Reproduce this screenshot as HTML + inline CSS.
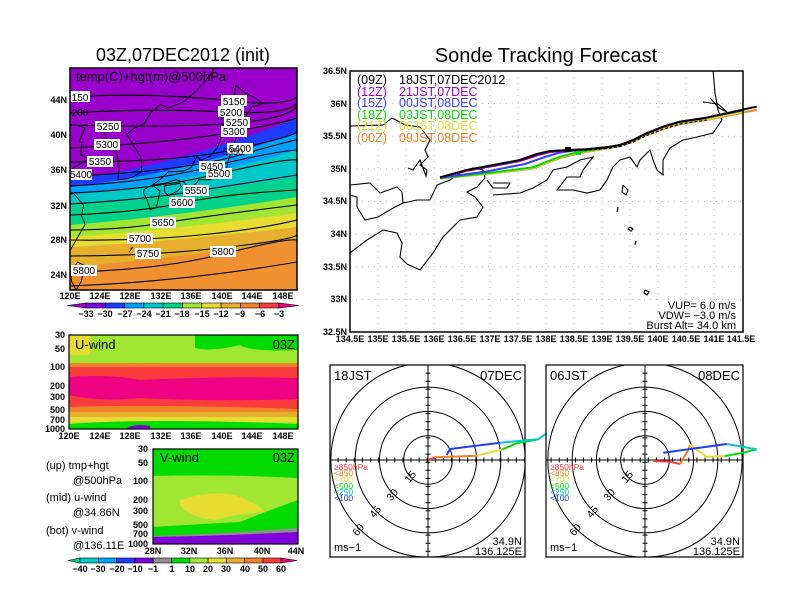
<!DOCTYPE html>
<html><head><meta charset="utf-8"><style>
html,body{margin:0;padding:0;background:#fff}
svg{display:block;font-family:"Liberation Sans",sans-serif}
.t{font-size:9px;font-weight:bold}
.n{vector-effect:non-scaling-stroke}
</style></head><body>
<svg width="792" height="612" viewBox="0 0 792 612" xmlns="http://www.w3.org/2000/svg">
<rect width="792" height="612" fill="#fff"/>
<defs>
<clipPath id="c1"><rect x="70" y="68" width="227" height="222"/></clipPath>
<clipPath id="c2"><rect x="350" y="71" width="393" height="261"/></clipPath>
<clipPath id="c3"><rect x="330" y="365" width="195" height="192"/></clipPath>
<clipPath id="c4"><rect x="546" y="365" width="197" height="192"/></clipPath>
</defs>

<!-- ===== Top-left temperature map ===== -->
<text x="183" y="61" font-size="18" text-anchor="middle">03Z,07DEC2012 (init)</text>
<g clip-path="url(#c1)">
<rect x="70" y="68" width="227" height="222" fill="#9a00cc"/>
<path d="M70,180 Q180,165 297,118 V290 H70Z" fill="#1e3cff"/>
<path d="M70,187 Q180,175 297,132 V290 H70Z" fill="#00a0ff"/>
<path d="M70,195 Q180,185 297,150 V290 H70Z" fill="#00c8c8"/>
<path d="M70,205 Q180,198 297,177 V290 H70Z" fill="#00d28c"/>
<path d="M70,225 Q180,216 297,197 V290 H70Z" fill="#a0e632"/>
<path d="M70,237 Q180,229 297,213 V290 H70Z" fill="#e6dc32"/>
<path d="M70,247 Q180,241 297,227 V290 H70Z" fill="#e6af2d"/>
<path d="M70,267 Q180,258 297,240 V290 H70Z" fill="#f09030"/>
<g transform="translate(-838.4,482.5) scale(7.57,-8.75)" fill="none" stroke="#000" stroke-width="0.9">
<polyline class="n" points="124.5,40 125.2,38.5 126.2,37.5 126.5,36 126.3,34.6 127.5,34.7 128.5,35 129.4,35.5 129.5,36.5 129.3,37.3 128.4,38.5 127.5,39.8 128.5,40.5 129.8,41 130.7,42.3 132,43.2 133,42.8 135,43.5 137,45 138.5,46.5 139.5,48"/>
<polyline class="n" points="121,40.8 122,40.5 121.2,39 121.6,38.8 121.4,37.5 122.5,37 120.5,36 119.5,35"/>
<polyline class="n" points="119.5,33 120.5,33 121.8,31.7 121.5,30.5 122,29.5 121,28 120,26.5"/>
<polygon class="n" points="129.8,33.5 130.9,34 131.9,33.3 131.4,31.4 130.6,31.2 130.2,32.3 129.7,33.1"/>
<polygon class="n" points="130.9,34 132,34.7 133,35.5 135,35.6 136,36 136.8,37.3 137.3,36.8 138.5,37.3 139.5,38.3 140,39.5 140,40.6 140.7,41.3 141.5,40.5 142,39.5 141.5,38.3 141,37 140.7,36 140.8,35.1 139.8,35 139,34.8 138.5,34.6 137,34.6 136.8,34.3 135.8,33.5 135.1,34.3 134,34.6 132.5,34.2"/>
<polygon class="n" points="132.5,33.9 134.5,34.2 134.7,33.8 134.2,33.3 133,32.8 132.5,33.2"/>
<polygon class="n" points="140,41.5 140.2,42.5 141.5,43.3 141.7,44.3 141.9,45.4 143,44.6 144.5,43.9 145.5,43.3 144,42.9 143.3,42 141.2,42.4"/>
<polygon class="n" points="121,25.2 121.9,24.8 121.5,23 120.8,22 120.2,23 120.1,24"/>
<polyline class="n" points="128,26.7 128.3,26.9 127.8,26.3"/>
<polyline class="n" points="129.5,28.3 129.8,28.5"/>
</g>
<g fill="none" stroke="#000" stroke-width="1.1">
<path d="M70,97 Q150,92 233,101 T297,80"/>
<path d="M70,113 Q150,108 230,112 T297,92"/>
<path d="M70,125 Q180,128 236,123 T297,105"/>
<path d="M70,148 Q180,142 233,132 T297,118"/>
<path d="M70,162 Q180,162 237,149 T297,132"/>
<path d="M70,176 Q180,172 240,155 T297,140"/>
<path d="M70,186 Q150,182 210,167 T297,150"/>
<path d="M70,193 Q150,190 218,174 T297,160"/>
<path d="M70,204 Q140,200 196,191 T297,175"/>
<path d="M70,215 Q140,212 182,203 T297,190"/>
<path d="M70,230 Q120,230 163,223 T297,205"/>
<path d="M70,240 Q140,241 200,235 T297,220"/>
<path d="M70,256 Q148,256 220,248 T297,235"/>
<path d="M70,272 Q160,270 223,254 T297,240"/>
<path d="M70,286 Q180,282 297,262"/>
</g>
<g font-size="10" text-anchor="middle">
<g fill="#fff"><rect x="70" y="91" width="20" height="11"/><rect x="221" y="95" width="26" height="11"/><rect x="218" y="106" width="26" height="11"/><rect x="95" y="121" width="26" height="11"/><rect x="224" y="117" width="26" height="11"/><rect x="94" y="139" width="26" height="11"/><rect x="221" y="126" width="26" height="11"/><rect x="87" y="156" width="26" height="11"/><rect x="227" y="143" width="26" height="11"/><rect x="70" y="169" width="22" height="11"/><rect x="199" y="161" width="26" height="11"/><rect x="206" y="168" width="26" height="11"/><rect x="183" y="185" width="26" height="11"/><rect x="169" y="197" width="26" height="11"/><rect x="150" y="217" width="26" height="11"/><rect x="127" y="233" width="26" height="11"/><rect x="135" y="248" width="26" height="11"/><rect x="71" y="265" width="26" height="11"/><rect x="210" y="246" width="26" height="11"/></g>
<text x="80" y="101">150</text><text x="234" y="105">5150</text><text x="231" y="116">5200</text><text x="108" y="130">5250</text><text x="237" y="126">5250</text><text x="107" y="148">5300</text><text x="234" y="135">5300</text><text x="100" y="165">5350</text><text x="240" y="152">5400</text><text x="81" y="178">5400</text><text x="212" y="170">5450</text><text x="219" y="177">5500</text><text x="196" y="194">5550</text><text x="182" y="206">5600</text><text x="163" y="226">5650</text><text x="140" y="242">5700</text><text x="148" y="257">5750</text><text x="84" y="274">5800</text><text x="223" y="255">5800</text>
<text x="80" y="116">200</text>
<text x="233" y="155" font-size="9">5350</text>
</g>
<text x="76" y="81" font-size="13">temp(C)+hgt(m)@500hPa</text>
</g>
<rect x="70" y="68" width="227" height="222" fill="none" stroke="#000" stroke-width="1.5"/>
<g class="t" text-anchor="end">
<text x="67" y="103">44N</text><text x="67" y="138">40N</text><text x="67" y="173">36N</text><text x="67" y="209">32N</text><text x="67" y="243">28N</text><text x="67" y="278">24N</text>
</g>
<g class="t" text-anchor="middle">
<text x="70" y="299">120E</text><text x="100" y="299">124E</text><text x="130" y="299">128E</text><text x="161" y="299">132E</text><text x="191" y="299">136E</text><text x="222" y="299">140E</text><text x="252" y="299">144E</text><text x="283" y="299">148E</text>
</g>
<g stroke="#000" stroke-width="0.6">
<polygon points="67,305.5 86,303 86,308" fill="#a000c8"/>
<rect x="86" y="303" width="19.3" height="5" fill="#8200dc"/><rect x="105.3" y="303" width="19.3" height="5" fill="#1e3cff"/><rect x="124.6" y="303" width="19.3" height="5" fill="#00a0ff"/><rect x="143.9" y="303" width="19.3" height="5" fill="#00c8c8"/><rect x="163.2" y="303" width="19.3" height="5" fill="#00d28c"/><rect x="182.5" y="303" width="19.3" height="5" fill="#a0e632"/><rect x="201.8" y="303" width="19.3" height="5" fill="#e6dc32"/><rect x="221.1" y="303" width="19.3" height="5" fill="#e6af2d"/><rect x="240.4" y="303" width="19.3" height="5" fill="#f08228"/><rect x="259.7" y="303" width="19.3" height="5" fill="#fa3c3c"/>
<polygon points="279,303 279,308 299,305.5" fill="#f00082"/>
</g>
<g class="t" text-anchor="middle">
<text x="86" y="317">−33</text><text x="105" y="317">−30</text><text x="125" y="317">−27</text><text x="144" y="317">−24</text><text x="163" y="317">−21</text><text x="182" y="317">−18</text><text x="202" y="317">−15</text><text x="221" y="317">−12</text><text x="240" y="317">−9</text><text x="260" y="317">−6</text><text x="279" y="317">−3</text>
</g>

<!-- ===== U-wind ===== -->
<rect x="69" y="335" width="229" height="94" fill="#a0e632"/>
<path d="M195,335 H298 V350 Q250,352 240,345 Q210,352 195,348Z" fill="#00dc00"/>
<path d="M69,335 H90 V355 H69Z" fill="#e6dc32"/>
<rect x="69" y="363" width="229" height="6" fill="#f08228"/>
<rect x="69" y="367" width="229" height="42" fill="#fa3c3c"/>
<path d="M69,377 Q110,374 140,380 Q220,376 298,378 V399 Q220,402 140,398 Q100,402 69,395Z" fill="#f00082"/>
<path d="M69,407 Q150,404 298,409 V414 H69Z" fill="#f08228"/>
<path d="M69,412 H298 V418 H69Z" fill="#e6af2d"/>
<path d="M69,417 H298 V422 H69Z" fill="#e6dc32"/>
<path d="M69,424 Q150,418 298,424 V429 H69Z" fill="#00dc00"/>
<path d="M125,429 Q135,423 150,426 V429Z" fill="#8200dc"/>
<rect x="69" y="335" width="229" height="94" fill="none" stroke="#000" stroke-width="1.2"/>
<text x="75" y="349" font-size="13">U-wind</text>
<text x="295" y="349" font-size="13" text-anchor="end">03Z</text>
<g class="t" text-anchor="end">
<text x="65" y="338">30</text><text x="65" y="352">50</text><text x="65" y="370">100</text><text x="65" y="389">200</text><text x="65" y="400">300</text><text x="65" y="413">500</text><text x="65" y="423">700</text><text x="65" y="432">1000</text>
</g>
<g class="t" text-anchor="middle">
<text x="69" y="439">120E</text><text x="100" y="439">124E</text><text x="130" y="439">128E</text><text x="161" y="439">132E</text><text x="191" y="439">136E</text><text x="222" y="439">140E</text><text x="252" y="439">144E</text><text x="283" y="439">148E</text>
</g>

<!-- ===== V-wind ===== -->
<rect x="153" y="449" width="145" height="95" fill="#a0e632"/>
<path d="M153,449 H298 V478 Q230,474 153,476Z" fill="#00dc00"/>
<path d="M180,500 Q210,490 235,495 Q260,505 265,512 Q240,513 215,520 Q190,518 180,505Z" fill="#e6dc32"/>
<path d="M153,527 Q200,524 240,522 Q270,510 298,500 V544 H153Z" fill="#00dc00"/>
<path d="M153,536 Q220,534 298,528 V544 H153Z" fill="#8e8e8e"/>
<path d="M153,537 Q220,536 298,532 V544 H153Z" fill="#8200dc"/>
<rect x="153" y="449" width="145" height="95" fill="none" stroke="#000" stroke-width="1.2"/>
<text x="160" y="462" font-size="13">V-wind</text>
<text x="295" y="462" font-size="13" text-anchor="end">03Z</text>
<g class="t" text-anchor="end">
<text x="148" y="452">30</text><text x="148" y="466">50</text><text x="148" y="484">100</text><text x="148" y="503">200</text><text x="148" y="514">300</text><text x="148" y="528">500</text><text x="148" y="537">700</text><text x="148" y="547">1000</text>
</g>
<g class="t" text-anchor="middle">
<text x="153" y="554">28N</text><text x="189" y="554">32N</text><text x="225" y="554">36N</text><text x="262" y="554">40N</text><text x="296" y="554">44N</text>
</g>
<g font-size="11">
<text x="46" y="469">(up) tmp+hgt</text><text x="73" y="484">@500hPa</text>
<text x="46" y="501">(mid) u-wind</text><text x="73" y="516">@34.86N</text>
<text x="46" y="534">(bot) v-wind</text><text x="73" y="549">@136.11E</text>
</g>
<g stroke="#000" stroke-width="0.6">
<polygon points="68,560.5 80,558 80,563" fill="#00d28c"/>
<rect x="80" y="558" width="18.3" height="5" fill="#00c8c8"/><rect x="98.3" y="558" width="18.3" height="5" fill="#00a0ff"/><rect x="116.6" y="558" width="18.3" height="5" fill="#1e3cff"/><rect x="134.9" y="558" width="18.3" height="5" fill="#8200dc"/><rect x="153.2" y="558" width="18.3" height="5" fill="#8e8e8e"/><rect x="171.5" y="558" width="18.3" height="5" fill="#00dc00"/><rect x="189.8" y="558" width="18.3" height="5" fill="#a0e632"/><rect x="208.1" y="558" width="18.3" height="5" fill="#e6dc32"/><rect x="226.4" y="558" width="18.3" height="5" fill="#e6af2d"/><rect x="244.7" y="558" width="18.3" height="5" fill="#f08228"/><rect x="263" y="558" width="18.3" height="5" fill="#fa3c3c"/>
<polygon points="281,558 281,563 297,560.5" fill="#f00082"/>
</g>
<g class="t" text-anchor="middle">
<text x="80" y="572">−40</text><text x="98" y="572">−30</text><text x="117" y="572">−20</text><text x="135" y="572">−10</text><text x="153" y="572">−1</text><text x="172" y="572">1</text><text x="190" y="572">10</text><text x="208" y="572">20</text><text x="226" y="572">30</text><text x="245" y="572">40</text><text x="263" y="572">50</text><text x="281" y="572">60</text>
</g>

<!-- ===== Sonde tracking map ===== -->
<text x="546" y="62" font-size="20" text-anchor="middle">Sonde Tracking Forecast</text>
<g clip-path="url(#c2)">
<g stroke="#bbb" stroke-width="1" stroke-dasharray="1 5">
<path d="M378,71V332M406,71V332M434,71V332M462,71V332M490,71V332M518,71V332M546,71V332M574,71V332M602,71V332M630,71V332M658,71V332M686,71V332M714,71V332"/>
<path d="M350,103.6H743M350,136.2H743M350,168.9H743M350,201.5H743M350,234.1H743M350,266.7H743M350,299.4H743"/>
</g>
<g fill="none" stroke="#000" stroke-width="1.1">
<polyline points="350,126 383,125 392,118 398,121 405,125 420,127 430,140 425,150 428,157 420,165 427,170 426,176 420,160 413,170 408,168"/>
<polyline points="350,185 370,183 380,193 397,187 402,192 403,203 395,207 378,217 365,220 357,207 357,197 350,195"/>
<polyline points="403,203 417,200 430,200 437,185 450,180 460,173 473,168 483,170 485,178 477,187 467,192 475,197 483,207 477,217 460,220 443,237 433,253 420,270 407,264 400,257 402,243 397,233 383,230 367,240 350,253"/>
<polyline points="487,180 493,188 507,188 510,183 493,183"/>
<polyline points="493,195 520,193 533,188 547,180 553,170 567,167 580,160 593,157 583,170 580,177 567,177 557,190 573,190 587,193 600,190 607,180 613,167 620,160 630,157 637,167 640,160 650,150 653,160 657,170 663,175 663,160 670,148 683,140 697,137 713,133 722,120 718,110 715,93 713,70"/>
<polyline points="703,102 718,104 727,112 719,108 710,98"/>
<polyline points="623,185 628,190 626,195 622,192 623,185"/>
<polyline points="618,207 617,212"/>
<polyline points="630,227 633,229 631,231 628,229 630,227"/>
<polyline points="636,241 635,245"/>
<polyline points="645,290 649,292 647,295 644,293 645,290"/>
</g>
<g fill="none" stroke-width="2">
<polyline stroke="#f08228" points="440,178.5 486.7,174 533.3,168.5 547,163 560,158 580,153 606.7,148.5 620,146 633.3,141.5 646.7,135 663.3,129 680,124 703.3,120.5 756.7,110"/>
<polyline stroke="#e6dc32" points="440,178.5 486.7,173.8 533.3,168 547,162.3 560,157.3 578,152.8 606.7,148 620,145.6 633.3,141 646.7,134.5 663.3,128.3 680,123.3 703.3,119.8 756.7,109"/>
<polyline stroke="#00dc00" points="440,178.3 486.7,173.3 533.3,167.3 546.7,161.7 560,156.7 576.7,152.5 606.7,147.5 620,145 633.3,140 646.7,133.3 663.3,126.7 680,121.7 703.3,118.3 756.7,108"/>
<polyline stroke="#3c3cff" points="440,177.8 486.7,171.5 525,164 545,157 560,152.5 575,150.5 606.7,147.3 620,145 633.3,140 646.7,133.3 663.3,126.7 680,121.7 703.3,118.3 756.7,107.5"/>
<polyline stroke="#a000c8" points="440,177.5 466.7,170.8 493.3,166 520,161 536.7,155.5 550,152 568.3,150.5 586.7,149.3 606.7,147.3 620,145 633.3,140 646.7,133.3 663.3,126.7 680,121.7 703.3,118.3 756.7,107"/>
<polyline stroke="#000" points="440,177.3 466.7,170 493.3,165 520,160 536.7,154 550,151 568.3,150 586.7,149.3 606.7,147.3 620,145 633.3,140 646.7,133.3 663.3,126.7 680,121.7 703.3,118.3 756.7,106.7"/>
</g>
<polyline fill="none" stroke="#000" stroke-width="1.2" stroke-dasharray="3 2" points="574,151 606.7,148.5 620,146.5 633.3,142 646.7,135.5 663.3,129 680,124 706.7,120"/>
<rect x="565" y="147" width="6" height="5" fill="#000"/>
<rect x="576" y="151" width="5" height="4" fill="#00dc00"/>
<g font-size="12.5">
<text x="357" y="84">(09Z)</text><text x="399" y="84">18JST,07DEC2012</text>
<text x="357" y="96" fill="#a000c8">(12Z)</text><text x="399" y="96" fill="#a000c8">21JST,07DEC</text>
<text x="357" y="107" fill="#3c3cff">(15Z)</text><text x="399" y="107" fill="#3c3cff">00JST,08DEC</text>
<text x="357" y="119" fill="#00dc00">(18Z)</text><text x="399" y="119" fill="#00dc00">03JST,08DEC</text>
<text x="357" y="130" fill="#e6dc32">(21Z)</text><text x="399" y="130" fill="#e6dc32">06JST,08DEC</text>
<text x="357" y="142" fill="#f08228">(00Z)</text><text x="399" y="142" fill="#f08228">09JST,08DEC</text>
</g>
<g font-size="11" text-anchor="end">
<text x="736" y="309">VUP=  6.0  m/s</text>
<text x="736" y="319">VDW=  −3.0  m/s</text>
<text x="736" y="329">Burst Alt=  34.0  km</text>
</g>
</g>
<polyline fill="none" stroke="#f08228" stroke-width="2" points="743,112.5 756.7,110"/>
<polyline fill="none" stroke="#000" stroke-width="2" points="743,109.5 756.7,106.7"/>
<rect x="350" y="71" width="393" height="261" fill="none" stroke="#000" stroke-width="1.5"/>
<g class="t" text-anchor="end">
<text x="347" y="74">36.5N</text><text x="347" y="107">36N</text><text x="347" y="139">35.5N</text><text x="347" y="172">35N</text><text x="347" y="204">34.5N</text><text x="347" y="237">34N</text><text x="347" y="270">33.5N</text><text x="347" y="302">33N</text><text x="347" y="335">32.5N</text>
</g>
<g class="t" text-anchor="middle">
<text x="350" y="342">134.5E</text><text x="378" y="342">135E</text><text x="406" y="342">135.5E</text><text x="434" y="342">136E</text><text x="462" y="342">136.5E</text><text x="490" y="342">137E</text><text x="518" y="342">137.5E</text><text x="546" y="342">138E</text><text x="574" y="342">138.5E</text><text x="602" y="342">139E</text><text x="630" y="342">139.5E</text><text x="658" y="342">140E</text><text x="686" y="342">140.5E</text><text x="714" y="342">141E</text><text x="741" y="342">141.5E</text>
</g>

<!-- ===== Hodographs ===== -->
<g clip-path="url(#c3)" fill="none" stroke="#000" stroke-width="1">
<circle cx="428" cy="460" r="24.3"/><circle cx="428" cy="460" r="48.6"/><circle cx="428" cy="460" r="72.9"/><circle cx="428" cy="460" r="97.2"/>
<line x1="330" y1="460" x2="525" y2="460"/><line x1="428" y1="365" x2="428" y2="557"/>
<line x1="330" y1="460" x2="525" y2="460" stroke-width="5" stroke-dasharray="1 7.1" stroke-dashoffset="0.5"/>
<line x1="428" y1="365" x2="428" y2="557" stroke-width="5" stroke-dasharray="1 7.1" stroke-dashoffset="0.5"/>
</g>
<rect x="330" y="365" width="195" height="192" fill="none" stroke="#000" stroke-width="1.2"/>
<g fill="none" stroke-width="2">
<polyline stroke="#fa3c3c" points="428.3,460 435,457.3"/>
<polyline stroke="#f08228" points="435,457.3 476.7,455.7"/>
<polyline stroke="#e6dc32" points="476.7,455.7 502.7,449.3"/>
<polyline stroke="#00dc00" points="502.7,449.3 516.7,443.3 538.3,439.3"/>
<polyline stroke="#00c8c8" points="500,442.7 538.3,439.3 546.7,433.3"/>
<polyline stroke="#1e3cff" points="446.7,455 450,449 500,442.7"/>
</g>
<g clip-path="url(#c4)" fill="none" stroke="#000" stroke-width="1">
<circle cx="645" cy="460" r="24.3"/><circle cx="645" cy="460" r="48.6"/><circle cx="645" cy="460" r="72.9"/><circle cx="645" cy="460" r="97.2"/>
<line x1="546" y1="460" x2="743" y2="460"/><line x1="645" y1="365" x2="645" y2="557"/>
<line x1="546" y1="460" x2="743" y2="460" stroke-width="5" stroke-dasharray="1 7.1" stroke-dashoffset="3.5"/>
<line x1="645" y1="365" x2="645" y2="557" stroke-width="5" stroke-dasharray="1 7.1" stroke-dashoffset="0.5"/>
</g>
<rect x="546" y="365" width="197" height="192" fill="none" stroke="#000" stroke-width="1.2"/>
<g fill="none" stroke-width="2">
<polyline stroke="#fa3c3c" points="653.3,461 670,461.7 680,464"/>
<polyline stroke="#f08228" points="680,464 688.3,450 690,445"/>
<polyline stroke="#e6dc32" points="690,445 706.7,456.7 725,456"/>
<polyline stroke="#00dc00" points="725,456 743.3,452.7 756.7,449.3"/>
<polyline stroke="#00c8c8" points="756.7,449.3 726.7,444"/>
<polyline stroke="#1e3cff" points="726.7,444 663.3,452.7"/>
</g>
<g font-size="13">
<text x="334" y="380">18JST</text><text x="522" y="380" text-anchor="end">07DEC</text>
<text x="550" y="380">06JST</text><text x="740" y="380" text-anchor="end">08DEC</text>
</g>
<g font-size="11">
<text x="334" y="551">ms−1</text><text x="550" y="551">ms−1</text>
<text x="522" y="545" text-anchor="end">34.9N</text><text x="522" y="555" text-anchor="end">136.125E</text>
<text x="740" y="545" text-anchor="end">34.9N</text><text x="740" y="555" text-anchor="end">136.125E</text>
</g>
<g font-size="8.5">
<text x="334" y="470" fill="#fa3c3c">≥850hPa</text><text x="334" y="476" fill="#f08228">&lt;850</text><text x="334" y="482" fill="#e6dc32">&lt;700</text><text x="334" y="489" fill="#00dc00">&lt;500</text><text x="334" y="495" fill="#00c8c8">&lt;250</text><text x="334" y="501" fill="#1e3cff">&lt;100</text>
<text x="550" y="470" fill="#fa3c3c">≥850hPa</text><text x="550" y="476" fill="#f08228">&lt;850</text><text x="550" y="482" fill="#e6dc32">&lt;700</text><text x="550" y="489" fill="#00dc00">&lt;500</text><text x="550" y="495" fill="#00c8c8">&lt;250</text><text x="550" y="501" fill="#1e3cff">&lt;100</text>
</g>
<g font-size="10.5" text-anchor="middle">
<text transform="translate(413,479) rotate(-50)">15</text><text transform="translate(395,497) rotate(-50)">30</text><text transform="translate(378,514) rotate(-50)">45</text><text transform="translate(361,532) rotate(-50)">60</text>
<text transform="translate(630,479) rotate(-50)">15</text><text transform="translate(612,497) rotate(-50)">30</text><text transform="translate(595,514) rotate(-50)">45</text><text transform="translate(578,532) rotate(-50)">60</text>
</g>
</svg>
</body></html>
